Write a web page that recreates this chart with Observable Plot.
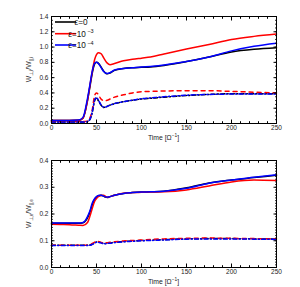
<!DOCTYPE html>
<html><head><meta charset="utf-8">
<script src="https://cdn.jsdelivr.net/npm/d3@7"></script>
<script src="https://cdn.jsdelivr.net/npm/@observablehq/plot@0.6"></script>
<style>
body{margin:0;background:#fff;}
#c{position:relative;width:300px;height:287px;background:#fff;}
#c svg{position:absolute;left:0;display:block;}
</style>
</head><body><div id="c"></div>
<script>
// ---- data ----
const time = [0,10,20,30,35,40,43,45,48,50,52,55,58,60,62,65,70,80,90,100,110,125,150,175,200,225,250];
const seriesNames = ["ε=0", "ε=10", "ε=10"];
const seriesExp = ["", "−3", "−4"];
const seriesColors = ["#000000", "#ff0000", "#0000ff"];

// top panel: W⊥,i/W∥,i (solid) and dashed companions
const ionSolidEps0 = [0.04,0.04,0.04,0.042,0.07,0.30,0.50,0.64,0.78,0.80,0.79,0.74,0.685,0.66,0.65,0.66,0.695,0.72,0.73,0.735,0.74,0.76,0.81,0.87,0.935,0.97,0.99];
const ionSolidEps3 = [0.04,0.04,0.04,0.042,0.07,0.30,0.52,0.66,0.84,0.90,0.925,0.915,0.86,0.82,0.79,0.77,0.785,0.82,0.84,0.855,0.87,0.91,0.975,1.035,1.10,1.14,1.17];
const ionSolidEps4 = [0.04,0.04,0.04,0.045,0.08,0.33,0.53,0.67,0.79,0.80,0.785,0.735,0.68,0.66,0.655,0.665,0.70,0.72,0.73,0.74,0.745,0.765,0.81,0.87,0.95,1.01,1.05];
const ionDashEps0 = [0.02,0.02,0.02,0.02,0.02,0.025,0.06,0.13,0.30,0.33,0.30,0.24,0.21,0.215,0.225,0.24,0.26,0.285,0.305,0.32,0.33,0.345,0.365,0.38,0.39,0.39,0.39];
const ionDashEps3 = [0.025,0.025,0.025,0.025,0.027,0.03,0.08,0.16,0.37,0.40,0.38,0.32,0.30,0.30,0.305,0.32,0.345,0.375,0.40,0.415,0.42,0.425,0.43,0.43,0.42,0.41,0.40];
const ionDashEps4 = [0.02,0.02,0.02,0.02,0.02,0.025,0.06,0.14,0.31,0.34,0.31,0.245,0.215,0.215,0.225,0.24,0.26,0.285,0.305,0.325,0.335,0.35,0.37,0.38,0.385,0.385,0.385];

// bottom panel: W⊥,e/W∥,e
const eleSolidEps0 = [0.165,0.165,0.165,0.165,0.167,0.185,0.21,0.232,0.255,0.263,0.268,0.27,0.267,0.263,0.262,0.265,0.27,0.277,0.28,0.282,0.283,0.285,0.298,0.316,0.327,0.336,0.345];
const eleSolidEps3 = [0.162,0.161,0.16,0.158,0.157,0.168,0.195,0.218,0.248,0.258,0.265,0.269,0.27,0.266,0.263,0.265,0.27,0.278,0.28,0.281,0.282,0.283,0.29,0.305,0.32,0.327,0.325];
const eleSolidEps4 = [0.166,0.166,0.166,0.166,0.168,0.19,0.215,0.238,0.258,0.265,0.269,0.27,0.267,0.264,0.263,0.265,0.27,0.277,0.28,0.282,0.283,0.285,0.296,0.315,0.327,0.337,0.347];
const eleDashEps0 = [0.083,0.083,0.083,0.083,0.083,0.083,0.084,0.087,0.092,0.095,0.095,0.093,0.09,0.09,0.091,0.092,0.094,0.097,0.099,0.101,0.102,0.104,0.107,0.108,0.108,0.107,0.106];
const eleDashEps3 = [0.083,0.083,0.083,0.083,0.083,0.083,0.085,0.089,0.095,0.098,0.097,0.094,0.092,0.092,0.093,0.094,0.096,0.099,0.101,0.103,0.105,0.107,0.109,0.11,0.109,0.108,0.107];
const eleDashEps4 = [0.082,0.082,0.082,0.082,0.082,0.082,0.083,0.086,0.091,0.094,0.094,0.092,0.089,0.089,0.09,0.091,0.093,0.096,0.098,0.1,0.101,0.103,0.106,0.107,0.107,0.106,0.105];

const xMajor = [0,50,100,150,200,250];
const xMinor = d3.range(0, 251, 10);
const yTopMajor = [0,0.2,0.4,0.6,0.8,1.0,1.2,1.4];
const yTopMinor = d3.range(0, 1.401, 0.05);
const yBotMajor = [0,0.1,0.2,0.3,0.4];
const yBotMinor = d3.range(0, 0.4001, 0.01);

const FONT = "Liberation Sans, Arial, Helvetica, sans-serif";
const SOLID = 1.5, DASHW = 1.5;
const dashRed = "4,4";
const dashDot = "4,2.2,1.2,2.2";

function lineOf(vals, color, dash, w) {
  return Plot.line(vals, {x: (d, i) => time[i], y: d => d, stroke: color, strokeWidth: w,
    strokeDasharray: dash, curve: "monotone-x"});
}

function axes(yMajor, yMinor) {
  const none = () => "";
  return [
    Plot.frame({stroke: "black", strokeWidth: 1}),
    Plot.axisX(xMajor, {anchor: "bottom", tickSize: -3.5, tickPadding: 5, label: null, tickFormat: d3.format("d"), fill: "#222"}),
    Plot.axisX(xMinor, {anchor: "bottom", tickSize: -1.8, tickFormat: none, label: null}),
    Plot.axisX(xMajor, {anchor: "top", tickSize: -3.5, tickFormat: none, label: null}),
    Plot.axisX(xMinor, {anchor: "top", tickSize: -1.8, tickFormat: none, label: null}),
    Plot.axisY(yMajor, {anchor: "left", tickSize: -3.5, tickPadding: 6.5, label: null, tickFormat: d => d.toFixed(1), fill: "#222"}),
    Plot.axisY(yMinor, {anchor: "left", tickSize: -1.8, tickFormat: none, label: null}),
    Plot.axisY(yMajor, {anchor: "right", tickSize: -3.5, tickFormat: none, label: null}),
    Plot.axisY(yMinor, {anchor: "right", tickSize: -1.8, tickFormat: none, label: null})
  ];
}

const wrap = document.getElementById("c");

// ---- top panel ----
const topSvg = Plot.plot({
  width: 300, height: 140, marginLeft: 51, marginRight: 24, marginTop: 16, marginBottom: 17,
  style: {fontFamily: FONT, fontSize: "6.5px", background: "transparent", overflow: "visible"},
  x: {domain: [0, 250]}, y: {domain: [0, 1.4]},
  marks: [
    lineOf(ionDashEps0, seriesColors[0], dashDot, DASHW),
    lineOf(ionDashEps3, seriesColors[1], dashRed, DASHW),
    lineOf(ionDashEps4, seriesColors[2], dashDot, DASHW),
    lineOf(ionSolidEps0, seriesColors[0], null, SOLID),
    lineOf(ionSolidEps3, seriesColors[1], null, SOLID),
    lineOf(ionSolidEps4, seriesColors[2], null, SOLID),
    ...axes(yTopMajor, yTopMinor)
  ]
});
topSvg.style.top = "0px";
wrap.appendChild(topSvg);

// ---- bottom panel ----
const botSvg = Plot.plot({
  width: 300, height: 147, marginLeft: 51, marginRight: 24, marginTop: 20, marginBottom: 20,
  style: {fontFamily: FONT, fontSize: "6.5px", background: "transparent", overflow: "visible"},
  x: {domain: [0, 250]}, y: {domain: [0, 0.4]},
  marks: [
    lineOf(eleDashEps0, seriesColors[0], dashDot, DASHW),
    lineOf(eleDashEps3, seriesColors[1], dashRed, DASHW),
    lineOf(eleDashEps4, seriesColors[2], dashDot, DASHW),
    lineOf(eleSolidEps0, seriesColors[0], null, SOLID),
    lineOf(eleSolidEps3, seriesColors[1], null, SOLID),
    lineOf(eleSolidEps4, seriesColors[2], null, SOLID),
    ...axes(yBotMajor, yBotMinor)
  ]
});
botSvg.style.top = "140px";
wrap.appendChild(botSvg);

// ---- labels ----
function timeLabel(svg, y) {
  const t = d3.select(svg).append("text").attr("x", 163.5).attr("y", y)
    .attr("text-anchor", "middle").attr("font-family", FONT).attr("font-size", 6.8).attr("fill", "#222");
  t.append("tspan").text("Time [Ω");
  t.append("tspan").attr("font-size", 4.8).attr("dy", -2.6).text("−1");
  t.append("tspan").attr("dy", 2.6).text("]");
}
function yLabel(svg, cy, sub) {
  const t = d3.select(svg).append("text").attr("transform", `translate(31,${cy}) rotate(-90)`)
    .attr("text-anchor", "middle").attr("font-family", FONT).attr("font-size", 6.8).attr("fill", "#222");
  t.append("tspan").text("W");
  t.append("tspan").attr("font-size", 4.6).attr("dy", 1.8).text("⊥," + sub);
  t.append("tspan").attr("dy", -1.8).text("/W");
  t.append("tspan").attr("font-size", 4.6).attr("dy", 1.8).text("||," + sub);
}
timeLabel(topSvg, 139.5);
timeLabel(botSvg, 144);
yLabel(topSvg, 69.5, "i");
yLabel(botSvg, 73.5, "e");

// legend
const lg = d3.select(topSvg).append("g");
const rowsY = [22, 33.7, 45];
seriesNames.forEach((name, i) => {
  lg.append("line").attr("x1", 55).attr("x2", 76).attr("y1", rowsY[i]).attr("y2", rowsY[i])
    .attr("stroke", seriesColors[i]).attr("stroke-width", 1.6);
  const t = lg.append("text").attr("x", 81).attr("y", rowsY[i] + 2.9)
    .attr("font-family", FONT).attr("font-size", 8.2).attr("fill", "#111");
  t.append("tspan").text(name);
  if (seriesExp[i]) t.append("tspan").attr("font-size", 5.5).attr("dy", -3.3).attr("dx", 1.5).text(seriesExp[i]);
});
</script>
</body></html>
